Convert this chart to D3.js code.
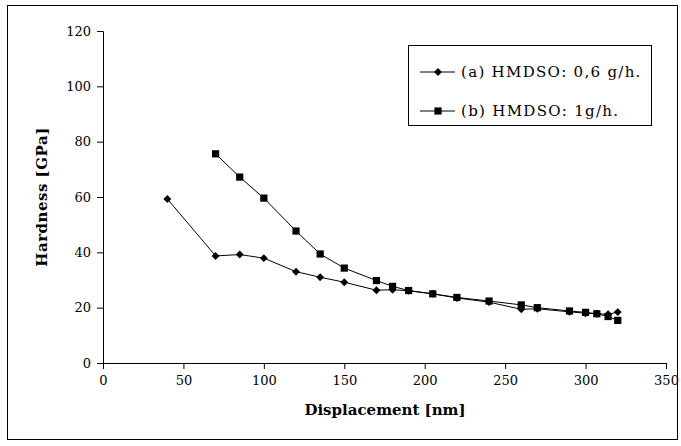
<!DOCTYPE html>
<html>
<head>
<meta charset="utf-8">
<script src="https://cdn.jsdelivr.net/npm/d3@7"></script>
<style>
  body { margin: 0; background: #fff; }
  text { font-family: "DejaVu Serif", serif; fill: #000; }
</style>
</head>
<body>
<div id="chart"></div>
<script>
// Series data
const dispA = [40, 70, 85, 100, 120, 135, 150, 170, 180, 190, 205, 220, 240, 260, 270, 290, 300, 307, 314, 320];
const hardA = [59.3, 38.7, 39.2, 37.9, 33.0, 31.0, 29.2, 26.3, 26.5, 26.1, 25.0, 23.5, 22.0, 19.4, 19.6, 18.5, 18.0, 17.8, 17.6, 18.4];
const dispB = [70, 85, 100, 120, 135, 150, 170, 180, 190, 205, 220, 240, 260, 270, 290, 300, 307, 314, 320];
const hardB = [75.6, 67.2, 59.6, 47.7, 39.4, 34.3, 29.8, 27.7, 26.2, 25.0, 23.7, 22.4, 21.0, 20.0, 18.8, 18.3, 17.8, 16.8, 15.4];
const seriesNames = ["(a) HMDSO: 0,6 g/h.", "(b) HMDSO: 1g/h."];
const xTicks = [0, 50, 100, 150, 200, 250, 300, 350];
const yTicks = [0, 20, 40, 60, 80, 100, 120];

const width = 681, height = 446;
const svg = d3.select("#chart").append("svg")
    .attr("width", width)
    .attr("height", height);

// outer frame
svg.append("rect")
    .attr("x", 7.5).attr("y", 5.5)
    .attr("width", 670).attr("height", 434)
    .attr("fill", "none").attr("stroke", "#000").attr("stroke-width", 1);

const xScale = d3.scaleLinear().domain([0, 350]).range([103, 666]);
const yScale = d3.scaleLinear().domain([0, 120]).range([363, 31]);

// axes
const xAxis = svg.append("g")
    .attr("transform", `translate(0, ${yScale(0)})`)
    .call(d3.axisBottom(xScale).tickValues(xTicks).tickSize(6).tickPadding(7));
const yAxis = svg.append("g")
    .attr("transform", `translate(${xScale(0)}, 0)`)
    .call(d3.axisLeft(yScale).tickValues(yTicks).tickSize(6).tickPadding(6));

[xAxis, yAxis].forEach(g => {
  g.selectAll("path, line").attr("stroke", "#000").attr("stroke-width", 1);
  g.selectAll("text")
      .style("font-family", "'DejaVu Serif', serif")
      .style("font-size", "13px")
      .attr("fill", "#000");
});

// axis titles
svg.append("text")
    .attr("x", 385).attr("y", 415)
    .attr("text-anchor", "middle")
    .style("font-size", "15px").style("font-weight", "bold")
    .text("Displacement [nm]");
svg.append("text")
    .attr("transform", "translate(47, 197) rotate(-90)")
    .attr("text-anchor", "middle")
    .style("font-size", "15px").style("font-weight", "bold")
    .style("letter-spacing", "0.5px")
    .text("Hardness [GPa]");

const line = d3.line()
    .x(d => xScale(d[0]))
    .y(d => yScale(d[1]));

const dataA = d3.zip(dispA, hardA);
const dataB = d3.zip(dispB, hardB);

const diamond = d3.symbol().type(d3.symbolDiamond2).size(40);
const square = d3.symbol().type(d3.symbolSquare).size(52);

function drawSeries(data, sym) {
  svg.append("path")
      .attr("d", line(data))
      .attr("fill", "none")
      .attr("stroke", "#000")
      .attr("stroke-width", 1);
  svg.append("g").selectAll("path")
      .data(data)
      .join("path")
      .attr("transform", d => `translate(${xScale(d[0])}, ${yScale(d[1])})`)
      .attr("d", sym)
      .attr("fill", "#000");
}
drawSeries(dataA, diamond);
drawSeries(dataB, square);

// legend
const legend = svg.append("g");
legend.append("rect")
    .attr("x", 408.5).attr("y", 45.5)
    .attr("width", 243).attr("height", 80)
    .attr("fill", "#fff").attr("stroke", "#000").attr("stroke-width", 1);
const legSyms = [diamond, square];
seriesNames.forEach((name, i) => {
  const y = 72 + i * 39;
  legend.append("line")
      .attr("x1", 420).attr("x2", 455)
      .attr("y1", y).attr("y2", y)
      .attr("stroke", "#000");
  legend.append("path")
      .attr("transform", `translate(438, ${y})`)
      .attr("d", legSyms[i])
      .attr("fill", "#000");
  legend.append("text")
      .attr("x", 461).attr("y", y + 5)
      .style("font-size", "15px")
      .style("letter-spacing", "1.3px")
      .text(name);
});
</script>
</body>
</html>
